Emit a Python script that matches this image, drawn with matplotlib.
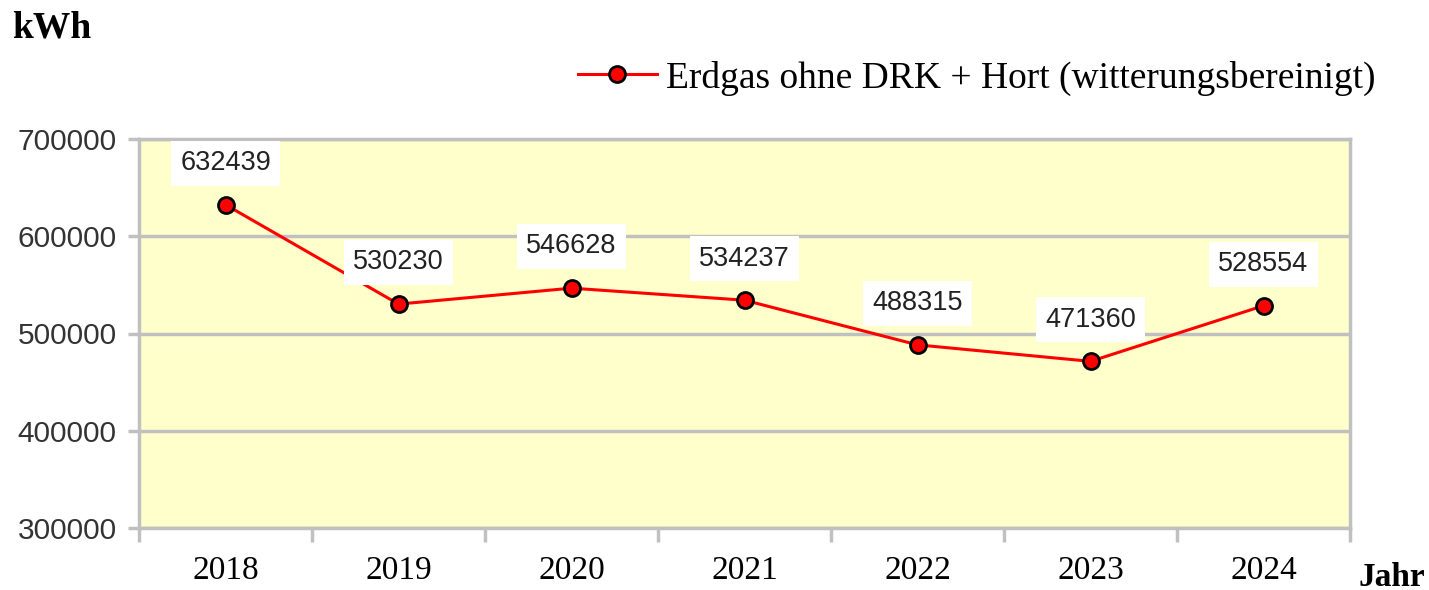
import matplotlib
matplotlib.use("Agg")
import matplotlib.pyplot as plt
import numpy as np

years = ["2018", "2019", "2020", "2021", "2022", "2023", "2024"]
gas_kwh = [632439, 530230, 546628, 534237, 488315, 471360, 528554]
y_ticks = [300000, 400000, 500000, 600000, 700000]
series_name = "Erdgas ohne DRK + Hort (witterungsbereinigt)"

serif = ["Liberation Serif", "DejaVu Serif"]
sans = ["Liberation Sans", "DejaVu Sans"]
grid_col = "#c0c0c0"

fig = plt.figure(figsize=(14.29, 5.90), dpi=100)
ax = fig.add_axes([139 / 1429, 1 - 528 / 590, (1350 - 139) / 1429, (528 - 139) / 590])
ax.set_facecolor("#ffffcc")

x = np.arange(len(years))
line, = ax.plot(x, gas_kwh, color="red", lw=2.2, marker="o", ms=11.5,
                mfc="red", mec="black", mew=2, zorder=3, label=series_name)

for xi, v in zip(x, gas_kwh):
    ax.annotate(str(v), (xi, v), xytext=(0, 30), textcoords="offset points",
                ha="center", va="center", fontsize=19.5, family=sans, color="#222222",
                bbox=dict(boxstyle="square,pad=0.35", fc="white", ec="none"), zorder=4)

ax.set_xlim(-0.5, len(years) - 0.5)
ax.set_ylim(300000, 700000)
ax.set_yticks(y_ticks)
ax.set_yticklabels([str(t) for t in y_ticks], family=sans, fontsize=21.5, color="#333333")
ax.yaxis.grid(True, color=grid_col, lw=2.5)
ax.set_axisbelow(True)

ax.set_xticks(np.arange(-0.5, len(years), 1.0))
ax.set_xticklabels([])
ax.set_xticks(x, minor=True)
ax.set_xticklabels(years, minor=True, family=serif, fontsize=24)
ax.tick_params(axis="x", which="minor", length=0, pad=20)
ax.tick_params(axis="x", which="major", length=10, width=2.5, color=grid_col)
ax.tick_params(axis="y", length=8, width=2.5, color=grid_col, pad=8)

for s in ax.spines.values():
    s.set_color(grid_col)
    s.set_linewidth(2.5)

fig.text(12 / 1429, 1 - 28 / 590, "kWh", family=serif, fontsize=27, fontweight="bold",
         va="center", ha="left")
fig.text(1358 / 1429, 1 - 577 / 590, "Jahr", family=serif, fontsize=24, fontweight="bold",
         va="center", ha="left")

fig.legend(handles=[line], loc="center left", bbox_to_anchor=(578 / 1429, 1 - 78 / 590),
           frameon=False, prop={"family": serif, "size": 27}, handlelength=2.1,
           handletextpad=0.25, borderaxespad=0, borderpad=0)

fig.savefig("out.png", dpi=100)
